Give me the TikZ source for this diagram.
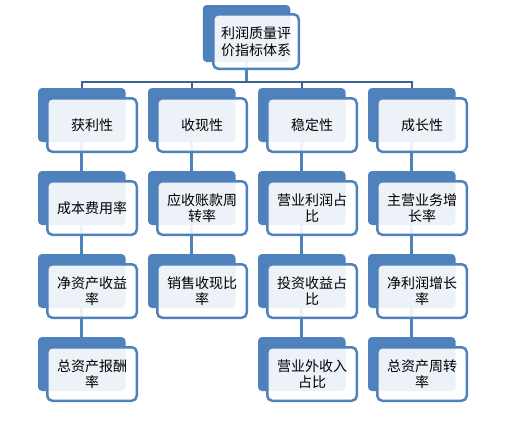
\documentclass[tikz,border=0pt]{standalone}
\usepackage{fontspec}
\setmainfont{Noto Sans CJK SC}
\definecolor{bk}{HTML}{4F81BD}
\definecolor{dk}{HTML}{3A6297}
\pgfdeclarelayer{bg}
\pgfsetlayers{bg,main}
\newcommand{\pbox}[4]{%
  \node[backbox] (b#1) at ({81.75+110*#2},{115+83*#3}) {};
  \node[frontbox] (f#1) at ({92+110*#2},{125+83*#3}) {#4};}
\begin{document}
\begin{tikzpicture}[x=1pt,y=-1pt,
  backbox/.style={fill=bk, draw=none, rounded corners=4pt, minimum width=87.5pt, minimum height=54pt, inner sep=0pt},
  frontbox/.style={fill=white, fill opacity=0.9, text opacity=1, draw=bk, draw opacity=1, line width=2.5pt, rounded corners=5pt,
    minimum width=89.5pt, minimum height=53.5pt, inner sep=0pt, align=center, font=\fontsize{14}{16.5}\selectfont},
  conn/.style={draw=bk, line width=3pt},
  bar/.style={draw=dk, line width=1.8pt}]
\useasboundingbox (0,0) rectangle (505,429);
% top node
\node[backbox, minimum height=57pt] (bt) at (246.5,33.5) {};
\node[frontbox, minimum width=85.5pt, minimum height=54.5pt] (ft) at (256,41.5) {利润质量评\\价指标体系};
% column 1
\pbox{11}{0}{0}{获利性}
\pbox{21}{0}{1}{成本费用率}
\pbox{31}{0}{2}{净资产收益\\率}
\pbox{41}{0}{3}{总资产报酬\\率}
% column 2
\pbox{12}{1}{0}{收现性}
\pbox{22}{1}{1}{应收账款周\\转率}
\pbox{32}{1}{2}{销售收现比\\率}
% column 3
\pbox{13}{2}{0}{稳定性}
\pbox{23}{2}{1}{营业利润占\\比}
\pbox{33}{2}{2}{投资收益占\\比}
\pbox{43}{2}{3}{营业外收入\\占比}
% column 4
\pbox{14}{3}{0}{成长性}
\pbox{24}{3}{1}{主营业务增\\长率}
\pbox{34}{3}{2}{净利润增长\\率}
\pbox{44}{3}{3}{总资产周转\\率}
\coordinate (hl) at (81.75,82);
\coordinate (hr) at (411.75,82);
\begin{pgfonlayer}{bg}
\draw[conn] (bt.south) -- (bt.south |- hl);
\draw[bar] (b11.north) |- (hr) -- (b14.north);
\draw[bar] (b12.north) -- (b12.north |- hl);
\draw[bar] (b13.north) -- (b13.north |- hl);
\draw[conn] (b11.south) -- (b21.north);
\draw[conn] (b21.south) -- (b31.north);
\draw[conn] (b31.south) -- (b41.north);
\draw[conn] (b12.south) -- (b22.north);
\draw[conn] (b22.south) -- (b32.north);
\draw[conn] (b13.south) -- (b23.north);
\draw[conn] (b23.south) -- (b33.north);
\draw[conn] (b33.south) -- (b43.north);
\draw[conn] (b14.south) -- (b24.north);
\draw[conn] (b24.south) -- (b34.north);
\draw[conn] (b34.south) -- (b44.north);
\end{pgfonlayer}
\end{tikzpicture}
\end{document}
